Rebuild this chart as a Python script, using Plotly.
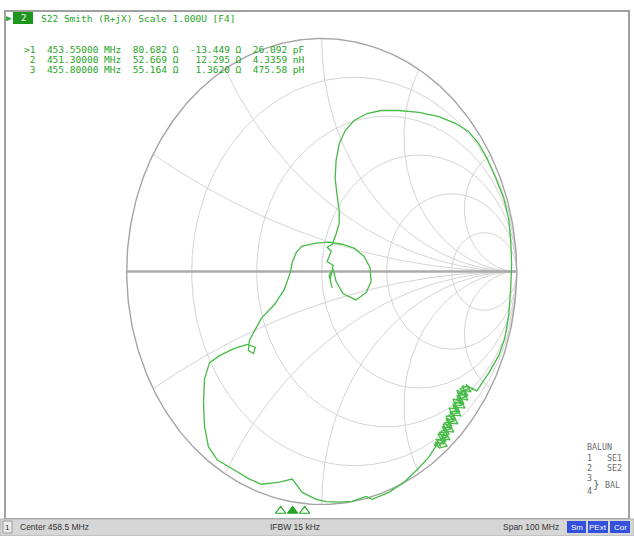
import numpy as np
import plotly.graph_objects as go

# ---------------- data ----------------
r_grid = [0.2, 0.5, 1.0, 2.0, 5.0]
x_grid = [0.27, 0.58, 1.0, 1.73, 3.73]

# S22 reflection coefficient trace, in sweep order
gamma_re = [
    0.725, 0.694, 0.709, 0.673, 0.694, 0.653, 0.678, 0.637, 0.663, 0.622, 0.648, 0.602,
    0.632, 0.586, 0.612, 0.576,
    0.601, 0.550, 0.488, 0.422, 0.345, 0.258, 0.228, 0.156, 0.090, 0.023, -0.028,
    -0.100, -0.151, -0.217, -0.309, -0.371, -0.448, -0.535, -0.581, -0.601, -0.606,
    -0.601, -0.575, -0.524, -0.448, -0.381, -0.340, -0.350, -0.376, -0.371, -0.309,
    -0.243, -0.192, -0.161, -0.151, -0.130, -0.100, -0.028, 0.038, 0.105, 0.166,
    0.217, 0.248, 0.253, 0.228, 0.176, 0.110, 0.074, 0.059, 0.038, 0.054, 0.043,
    0.059, 0.028, 0.049, 0.028, 0.054, 0.074, 0.090, 0.090, 0.079, 0.069, 0.074,
    0.090, 0.120, 0.166, 0.233, 0.304, 0.396, 0.499, 0.601, 0.688, 0.754, 0.806,
    0.847, 0.893, 0.934, 0.959, 0.969, 0.974, 0.969, 0.959, 0.939, 0.908, 0.857,
    0.795,
    0.771, 0.719, 0.750, 0.699, 0.730, 0.678, 0.709, 0.658, 0.689, 0.637, 0.668, 0.617,
    0.648, 0.596, 0.627, 0.581, 0.602,
    0.643, 0.612, 0.658, 0.632, 0.678, 0.648, 0.699, 0.668, 0.714, 0.684, 0.735, 0.704,
    0.750, 0.725, 0.766, 0.740,
    0.755, 0.714, 0.735, 0.694, 0.719, 0.673, 0.699, 0.653, 0.678, 0.632, 0.658, 0.612,
    0.643, 0.596, 0.622,
    0.607, 0.637, 0.622, 0.653, 0.627, 0.668, 0.643, 0.684, 0.658, 0.699, 0.673, 0.714,
    0.694, 0.740, 0.709, 0.750, 0.781,
]
gamma_im = [
    -0.530, -0.509, -0.556, -0.547, -0.590, -0.586, -0.624, -0.620, -0.659, -0.654, -0.693, -0.689,
    -0.727, -0.719, -0.749, -0.745,
    -0.730, -0.796, -0.852, -0.904, -0.948, -0.978, -0.965, -0.987, -0.990, -0.988, -0.978,
    -0.948, -0.891, -0.904, -0.913, -0.891, -0.852, -0.809, -0.752, -0.665, -0.557,
    -0.461, -0.391, -0.361, -0.330, -0.313, -0.326, -0.352, -0.339, -0.296, -0.200,
    -0.143, -0.078, -0.004, 0.039, 0.083, 0.109, 0.122, 0.126, 0.117, 0.100,
    0.065, 0.017, -0.043, -0.091, -0.122, -0.096, -0.043, 0.009, -0.017, -0.070, -0.035,
    0.026, 0.043, 0.087, 0.104, 0.117, 0.161, 0.209, 0.261, 0.326, 0.400, 0.478,
    0.548, 0.604, 0.648, 0.678, 0.691, 0.691, 0.683, 0.665, 0.635, 0.600, 0.548,
    0.487, 0.400, 0.313, 0.226, 0.139, 0.030, -0.078, -0.187, -0.287, -0.361, -0.435,
    -0.513,
    -0.500, -0.491, -0.534, -0.521, -0.569, -0.560, -0.603, -0.599, -0.637, -0.633, -0.672, -0.667,
    -0.706, -0.697, -0.740, -0.732, -0.758,
    -0.749, -0.715, -0.723, -0.685, -0.689, -0.650, -0.654, -0.616, -0.620, -0.582, -0.586, -0.543,
    -0.552, -0.509, -0.517, -0.483,
    -0.504, -0.513, -0.539, -0.547, -0.573, -0.577, -0.607, -0.616, -0.642, -0.650, -0.676, -0.685,
    -0.710, -0.723, -0.727,
    -0.740, -0.727, -0.706, -0.697, -0.672, -0.663, -0.642, -0.629, -0.607, -0.594, -0.569, -0.560,
    -0.534, -0.526, -0.504, -0.491, -0.509,
]

marker_ids = [">1", "2", "3"]
marker_freq_mhz = [453.55, 451.30, 455.80]
marker_r_ohm = [80.682, 52.669, 55.164]
marker_x_ohm = [-13.449, 12.295, 1.3620]
marker_lc = [26.092, 4.3359, 475.58]
marker_lc_unit = ["pF", "nH", "pH"]
active_marker = 0

center_mhz = 458.5
span_mhz = 100
ifbw_khz = 15

port_labels = ["BALUN", "1   SE1", "2   SE2"]

# ---------------- styles ----------------
GREEN_TXT = "rgb(38,165,38)"
GREEN_TR = "rgb(70,188,70)"
GRID = "#d4d4d4"
W, H = 634, 536
CX, CY, RX, RY = 321.7, 271.5, 195.0, 233.0


def px(x):
    return x / W


def py(y):
    return 1 - y / H


fig = go.Figure()

# grid: resistance circles
t = np.linspace(0, 2 * np.pi, 400)
for r in r_grid:
    c, rad = r / (1 + r), 1 / (1 + r)
    fig.add_trace(go.Scatter(x=c + rad * np.cos(t), y=rad * np.sin(t), mode="lines",
                             line=dict(color=GRID, width=1), hoverinfo="skip"))
# grid: reactance arcs
rr = np.concatenate([[0.0], np.logspace(-3, 3.5, 400)])
for xv in x_grid:
    for s in (1, -1):
        z = rr + 1j * s * xv
        g = (z - 1) / (z + 1)
        fig.add_trace(go.Scatter(x=g.real, y=g.imag, mode="lines",
                                 line=dict(color=GRID, width=1), hoverinfo="skip"))
# outer circle and real axis
fig.add_trace(go.Scatter(x=np.cos(t), y=np.sin(t), mode="lines",
                         line=dict(color="#a4a4a4", width=1.4), hoverinfo="skip"))
fig.add_trace(go.Scatter(x=[-1, 1], y=[0, 0], mode="lines",
                         line=dict(color="#ababab", width=2.6), hoverinfo="skip"))

# data trace
fig.add_trace(go.Scatter(x=gamma_re, y=gamma_im, mode="lines",
                         line=dict(color=GREEN_TR, width=1.3), hoverinfo="skip"))

# marker stimulus indicators (bottom)
fig.add_trace(go.Scatter(
    x=marker_freq_mhz, y=[0.5] * len(marker_freq_mhz), xaxis="x2", yaxis="y2", mode="markers",
    marker=dict(symbol=["triangle-up" if i == active_marker else "triangle-up-open"
                        for i in range(len(marker_freq_mhz))],
                size=9, color=GREEN_TXT, line=dict(color=GREEN_TXT, width=1.2)),
    hoverinfo="skip"))

fig.update_layout(
    width=W, height=H, margin=dict(l=0, r=0, t=0, b=0),
    paper_bgcolor="white", plot_bgcolor="rgba(0,0,0,0)", showlegend=False,
    xaxis=dict(range=[-CX / RX, (W - CX) / RX], visible=False, domain=[0, 1]),
    yaxis=dict(range=[(CY - H) / RY, CY / RY], visible=False, domain=[0, 1]),
    xaxis2=dict(range=[center_mhz - span_mhz / 2, center_mhz + span_mhz / 2], visible=False,
                domain=[px(319 - 266.5), px(319 + 266.5)], anchor="y2"),
    yaxis2=dict(range=[0, 1], visible=False, domain=[py(517), py(505)], anchor="x2"),
)

shapes = []
# chart frame
shapes.append(dict(type="rect", xref="paper", yref="paper", x0=px(5), x1=px(629), y0=py(519), y1=py(11),
                   line=dict(color="#a0a0a0", width=2)))
# status bar
shapes.append(dict(type="rect", xref="paper", yref="paper", x0=0, x1=1, y0=0, y1=py(519),
                   fillcolor="#d6d6d6", line=dict(color="#b0b0b0", width=1)))
shapes.append(dict(type="rect", xref="paper", yref="paper", x0=px(3), x1=px(12), y0=py(533), y1=py(521),
                   fillcolor="#ececec", line=dict(color="#9a9a9a", width=1)))
# trace icon
shapes.append(dict(type="rect", xref="paper", yref="paper", x0=px(13), x1=px(33), y0=py(24), y1=py(12),
                   fillcolor="rgb(30,150,30)", line=dict(width=0)))
# status boxes
for x0, x1 in [(567, 586), (588, 608), (610, 630)]:
    shapes.append(dict(type="rect", xref="paper", yref="paper", x0=px(x0), x1=px(x1), y0=py(533),
                       y1=py(521), fillcolor="rgb(50,80,220)", line=dict(width=0)))
fig.update_layout(shapes=shapes)

MONO = "DejaVu Sans Mono"
ann = []


def text(x, y, s, size=9.5, color=GREEN_TXT, font=MONO, anchor="left"):
    ann.append(dict(x=px(x), y=py(y), xref="paper", yref="paper", text=s, showarrow=False,
                    xanchor=anchor, yanchor="middle", font=dict(family=font, size=size, color=color)))


text(4, 18, "▶", size=9, color=GREEN_TXT)
text(23, 18, "2", size=9, color="white", anchor="center")
text(39, 18, "S22 Smith (R+jX) Scale 1.000U [F4]".replace(" ", "\u00a0"))

row_y = [50, 59.8, 69.6]
for i in range(len(marker_ids)):
    xs = format(marker_x_ohm[i], "#.5g")
    line = (f"{marker_ids[i]:>2}  {marker_freq_mhz[i]:.5f} MHz  {marker_r_ohm[i]:#.5g} \u03a9  "
            f"{xs:>7} \u03a9  {marker_lc[i]:#.5g} {marker_lc_unit[i]}")
    text(22, row_y[i], line.replace(" ", "\u00a0"))

# port legend
LG = "#6a6a6a"
for i, s in enumerate(port_labels):
    text(585, 447 + 10.5 * i, s.replace(" ", "\u00a0"), size=8.3, color=LG)
text(585, 478, "3", size=8.3, color=LG)
text(585, 491, "4", size=8.3, color=LG)
text(591, 484.5, "}", size=11, color=LG)
text(603, 485, "BAL", size=8.3, color=LG)

# status bar texts
SB = "Liberation Sans"
text(7.5, 527, "1", size=8, color="#333", font=SB, anchor="center")
text(18, 527, f"Center {center_mhz} MHz", size=8.5, color="#333", font=SB)
text(295, 527, f"IFBW {ifbw_khz} kHz", size=8.5, color="#333", font=SB, anchor="center")
text(561, 527, f"Span {span_mhz} MHz", size=8.5, color="#333", font=SB, anchor="right")
for xc, s in [(576.5, "Sm"), (598, "PExt"), (620, "Cor")]:
    text(xc, 527, s, size=8, color="white", font=SB, anchor="center")

fig.update_layout(annotations=ann)
fig.write_html("out.html", config={"displayModeBar": False},
               post_script="document.body.style.margin='0px';document.body.style.overflow='hidden';")
